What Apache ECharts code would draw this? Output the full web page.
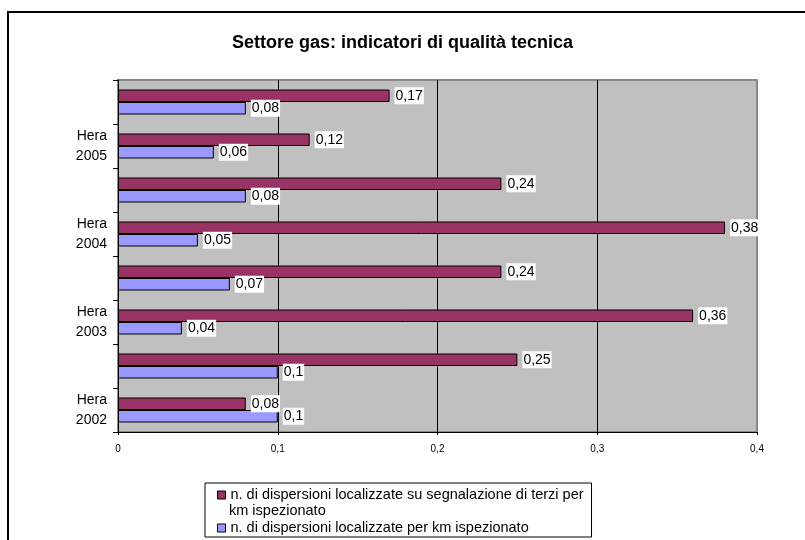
<!DOCTYPE html>
<html>
<head>
<meta charset="utf-8">
<script src="https://cdn.jsdelivr.net/npm/echarts@6/dist/echarts.min.js"></script>
<style>html,body{margin:0;padding:0;background:#fff}#c{width:805px;height:540px}</style>
</head>
<body>
<div id="c"></div>
<script>
var categories = ['Hera\n2002', '', 'Hera\n2003', '', 'Hera\n2004', '', 'Hera\n2005', ''];
var seriesTerzi = [0.08, 0.25, 0.36, 0.24, 0.38, 0.24, 0.12, 0.17];
var seriesKm = [0.1, 0.1, 0.04, 0.07, 0.05, 0.08, 0.06, 0.08];
var nameTerzi = 'n. di dispersioni localizzate su segnalazione di terzi per km ispezionato';
var nameKm = 'n. di dispersioni localizzate per km ispezionato';
var xTicks = [0, 0.1, 0.2, 0.3, 0.4];

function fmt(v) { return String(+v.toFixed(2)).replace('.', ','); }

var font = 'Liberation Sans, Arial, sans-serif';
var chart = echarts.init(document.getElementById('c'), null, {renderer: 'canvas'});
var labelCfg = {
  show: true, position: 'right', distance: 5,
  color: '#000', fontSize: 14, fontFamily: font,
  backgroundColor: '#fff', padding: [2, 1, 1, 1],
  formatter: function (p) { return fmt(p.value); }
};
chart.setOption({
  animation: false,
  textStyle: {fontFamily: font},
  title: {
    text: 'Settore gas: indicatori di qualità tecnica',
    left: 'center', top: 29,
    textStyle: {fontSize: 18, fontWeight: 'bold', color: '#000', fontFamily: font}
  },
  graphic: [
    {type: 'rect', shape: {x: 8, y: 12, width: 830, height: 560}, style: {fill: 'none', stroke: '#000', lineWidth: 2}, z: 0},
    {type: 'text', left: 229, top: 503, style: {text: 'km ispezionato', fontSize: 14.5, fontFamily: font, fill: '#000'}, z: 10}
  ],
  legend: {
    orient: 'vertical', left: 205, top: 483,
    data: [nameTerzi, nameKm],
    padding: [4, 8, 1, 12], itemGap: 17, itemWidth: 8, itemHeight: 8,
    icon: 'rect',
    borderColor: '#000', borderWidth: 1, backgroundColor: '#fff',
    itemStyle: {borderColor: '#000', borderWidth: 1},
    textStyle: {fontSize: 14.5, lineHeight: 16, color: '#000', fontFamily: font},
    formatter: function (n) { return n === nameTerzi ? 'n. di dispersioni localizzate su segnalazione di terzi per' : n; }
  },
  grid: {
    left: 118, right: 48, top: 80, bottom: 108,
    show: true, backgroundColor: '#c0c0c0', borderColor: '#888', borderWidth: 2,
    containLabel: false
  },
  xAxis: {
    type: 'value', min: xTicks[0], max: xTicks[xTicks.length - 1], interval: 0.1,
    axisLine: {show: true, lineStyle: {color: '#000', width: 1}},
    axisTick: {show: true, length: 3, lineStyle: {color: '#000'}},
    axisLabel: {fontSize: 10, color: '#000', margin: 12, fontFamily: font, formatter: function (v) { return fmt(v); }},
    splitLine: {show: true, showMinLine: false, showMaxLine: false, lineStyle: {color: '#000', width: 1}}
  },
  yAxis: {
    type: 'category', data: categories,
    axisLine: {show: true, lineStyle: {color: '#000', width: 1}},
    axisTick: {show: true, length: 5, lineStyle: {color: '#000'}},
    axisLabel: {fontSize: 14, lineHeight: 20, color: '#000', margin: 11, fontFamily: font, interval: 0, padding: [5, 0, 0, 0]},
    splitLine: {show: false}
  },
  series: [
    {name: nameTerzi, type: 'bar', data: seriesTerzi, barWidth: 12.5, barGap: '0%',
     itemStyle: {color: '#993366', borderColor: '#000', borderWidth: 1}, label: labelCfg},
    {name: nameKm, type: 'bar', data: seriesKm, barWidth: 12.5, barGap: '0%',
     itemStyle: {color: '#9999ff', borderColor: '#000', borderWidth: 1}, label: labelCfg}
  ]
});
</script>
</body>
</html>
